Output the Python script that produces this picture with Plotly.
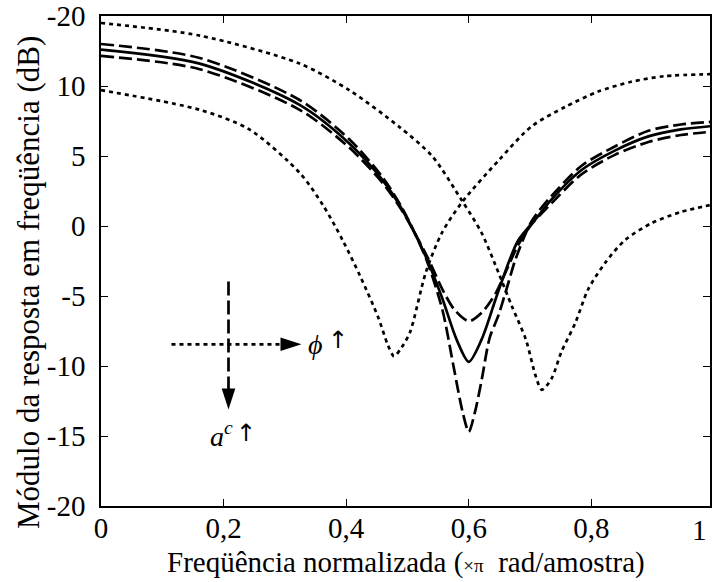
import plotly.graph_objects as go

# ---- data ----
x_solid = [0, 0.161, 0.324, 0.405, 0.459, 0.491, 0.530, 0.557, 0.580, 0.600, 0.621, 0.644, 0.665, 0.681, 0.713, 0.735, 0.784, 0.839, 0.893, 0.946, 1.0]
y_solid = [12.6, 11.6, 8.65, 5.9, 3.3, 1.2, -2.2, -5.2, -8.1, -9.7, -8.1, -5.2, -2.6, -1.0, 0.7, 1.9, 4.0, 5.4, 6.4, 6.9, 7.15]

x_dash_deep = [0, 0.161, 0.324, 0.405, 0.459, 0.491, 0.530, 0.557, 0.575, 0.590, 0.600, 0.610, 0.621, 0.634, 0.649, 0.665, 0.676, 0.702, 0.730, 0.784, 0.839, 0.893, 0.946, 1.0]
y_dash_deep = [13.0, 12.0, 9.0, 6.2, 3.5, 1.3, -2.3, -6.0, -10.0, -13.3, -14.7, -13.3, -11.0, -8.0, -6.3, -4.0, -2.4, 0.3, 1.9, 4.3, 5.7, 6.8, 7.25, 7.45]

x_dash_shallow = [0, 0.161, 0.324, 0.405, 0.459, 0.491, 0.530, 0.559, 0.577, 0.600, 0.621, 0.644, 0.660, 0.680, 0.702, 0.730, 0.784, 0.839, 0.893, 0.946, 1.0]
y_dash_shallow = [12.15, 11.2, 8.3, 5.6, 3.1, 1.1, -2.0, -4.7, -6.0, -6.8, -6.2, -4.8, -3.3, -1.4, 0.1, 1.4, 3.7, 5.1, 6.0, 6.5, 6.75]

x_dot_right = [0, 0.161, 0.324, 0.405, 0.486, 0.540, 0.589, 0.621, 0.649, 0.670, 0.693, 0.709, 0.719, 0.735, 0.751, 0.774, 0.795, 0.823, 0.855, 0.898, 0.946, 1.0]
y_dot_right = [14.5, 13.6, 11.6, 9.7, 7.1, 5.0, 1.8, -0.5, -3.4, -5.7, -8.1, -10.7, -11.7, -10.9, -9.0, -6.9, -4.5, -2.6, -1.0, 0.2, 1.0, 1.55]

x_dot_left = [0, 0.161, 0.242, 0.324, 0.362, 0.394, 0.423, 0.452, 0.468, 0.478, 0.490, 0.504, 0.530, 0.556, 0.589, 0.649, 0.702, 0.757, 0.811, 0.865, 0.919, 1.0]
y_dot_left = [9.7, 8.3, 6.9, 3.8, 1.5, -1.0, -3.6, -6.5, -8.5, -9.3, -8.7, -7.6, -3.3, -0.5, 1.7, 4.7, 7.1, 8.5, 9.6, 10.3, 10.7, 10.85]

x_ticks = [0, 0.2, 0.4, 0.6, 0.8]
x_ticktext = ["0", "0,2", "0,4", "0,6", "0,8"]
x_last_ticktext = "1"
y_ticks = [-20, -15, -10, -5, 0, 5, 10, 15]
y_ticktext = ["-20", "-15", "-10", "-5", "0", "5", "10", "-20"]

x_title = "Freqüência normalizada (<span style='font-size:19px'>×π</span>\u00a0 rad/amostra)"
y_title = "Módulo da resposta em freqüência (dB)"

# annotation arrows (data coordinates)
phi_arrow_x = [0.115, 0.327]
phi_arrow_y = -8.45
ac_arrow_x = 0.208
ac_arrow_y = [-3.96, -13.1]

FONT = "Liberation Serif, Times New Roman, serif"
ARROWFONT = "DejaVu Sans"
BLACK = "#000000"
W = 2.7
DOT = "4px,4px"
DASH = "13px,5px"
TICK_SIZE = 29
TITLE_SIZE = 29

fig = go.Figure()

def curve(x, y, dash):
    fig.add_trace(go.Scatter(x=x, y=y, mode="lines",
                             line=dict(color=BLACK, width=W, dash=dash, shape="spline", smoothing=0.8),
                             showlegend=False, hoverinfo="skip"))

curve(x_dot_right, y_dot_right, DOT)
curve(x_dot_left, y_dot_left, DOT)
curve(x_dash_deep, y_dash_deep, DASH)
curve(x_dash_shallow, y_dash_shallow, DASH)
curve(x_solid, y_solid, "solid")

# horizontal dotted arrow (phi)
fig.add_trace(go.Scatter(x=[phi_arrow_x[0], phi_arrow_x[1] - 0.03], y=[phi_arrow_y, phi_arrow_y], mode="lines",
                         line=dict(color=BLACK, width=W, dash=DOT), showlegend=False, hoverinfo="skip"))
fig.add_trace(go.Scatter(x=[phi_arrow_x[1]], y=[phi_arrow_y], mode="markers",
                         marker=dict(symbol="arrow", angle=90, size=22, color=BLACK, line=dict(width=0)),
                         showlegend=False, hoverinfo="skip"))
# vertical dashed arrow (a^c)
fig.add_trace(go.Scatter(x=[ac_arrow_x, ac_arrow_x], y=[ac_arrow_y[0], ac_arrow_y[1] + 1.2], mode="lines",
                         line=dict(color=BLACK, width=W, dash="14px,5px"), showlegend=False, hoverinfo="skip"))
fig.add_trace(go.Scatter(x=[ac_arrow_x], y=[ac_arrow_y[1]], mode="markers",
                         marker=dict(symbol="arrow", angle=180, size=22, color=BLACK, line=dict(width=0)),
                         showlegend=False, hoverinfo="skip"))

fig.add_annotation(x=0.350, y=phi_arrow_y, xref="x", yref="y", text="<i>ϕ</i>", showarrow=False,
                   font=dict(family=FONT, size=28, color=BLACK), xanchor="center", yanchor="middle")
fig.add_annotation(x=0.387, y=phi_arrow_y + 0.3, xref="x", yref="y", text="↑", showarrow=False,
                   font=dict(family=ARROWFONT, size=24, color=BLACK), xanchor="center", yanchor="middle")
fig.add_annotation(x=0.197, y=-14.9, xref="x", yref="y", text="<i>a</i><sup><i>c</i></sup>", showarrow=False,
                   font=dict(family=FONT, size=28, color=BLACK), xanchor="center", yanchor="middle")
fig.add_annotation(x=0.236, y=-14.8, xref="x", yref="y", text="↑", showarrow=False,
                   font=dict(family=ARROWFONT, size=24, color=BLACK), xanchor="center", yanchor="middle")
# last x tick label (tick itself lies just beyond the visible edge)
fig.add_annotation(x=1, y=0, xref="paper", yref="paper", text=x_last_ticktext, showarrow=False,
                   font=dict(family=FONT, size=TICK_SIZE, color=BLACK), xanchor="right", yanchor="middle",
                   xshift=-1, yshift=-24)
# axis titles
fig.add_annotation(x=0.5, y=0, xref="paper", yref="paper", text=x_title, showarrow=False,
                   font=dict(family=FONT, size=TITLE_SIZE, color=BLACK), xanchor="center", yanchor="middle",
                   yshift=-56)
fig.add_annotation(x=0, y=0.455, xref="paper", yref="paper", text=y_title, showarrow=False, textangle=-90,
                   font=dict(family=FONT, size=31, color=BLACK), xanchor="center", yanchor="middle",
                   xshift=-73)

fig.update_layout(
    width=712, height=582,
    margin=dict(l=101, r=0, t=16, b=76),
    paper_bgcolor="white", plot_bgcolor="white",
    font=dict(family=FONT, size=TICK_SIZE, color=BLACK),
    showlegend=False,
)
fig.update_xaxes(
    range=[0, 0.9935], tickvals=x_ticks, ticktext=x_ticktext,
    ticks="inside", ticklen=7, tickwidth=1.2, tickcolor=BLACK,
    showline=True, linecolor=BLACK, linewidth=1.5, mirror="ticks",
    showgrid=False, zeroline=False,
    tickfont=dict(family=FONT, size=TICK_SIZE, color=BLACK),
    ticklabelstandoff=-5,
)
fig.update_yaxes(
    range=[-20, 15], tickvals=y_ticks, ticktext=y_ticktext,
    ticks="inside", ticklen=7, tickwidth=1.2, tickcolor=BLACK,
    showline=True, linecolor=BLACK, linewidth=1.5, mirror="ticks",
    showgrid=False, zeroline=False,
    tickfont=dict(family=FONT, size=TICK_SIZE, color=BLACK),
    ticklabelstandoff=8,
)

# remove the default 8px page margin so the figure sits at the window's corner
fig.write_html("out.html", config={"displayModeBar": False},
               post_script="document.body.style.margin='0px';")
